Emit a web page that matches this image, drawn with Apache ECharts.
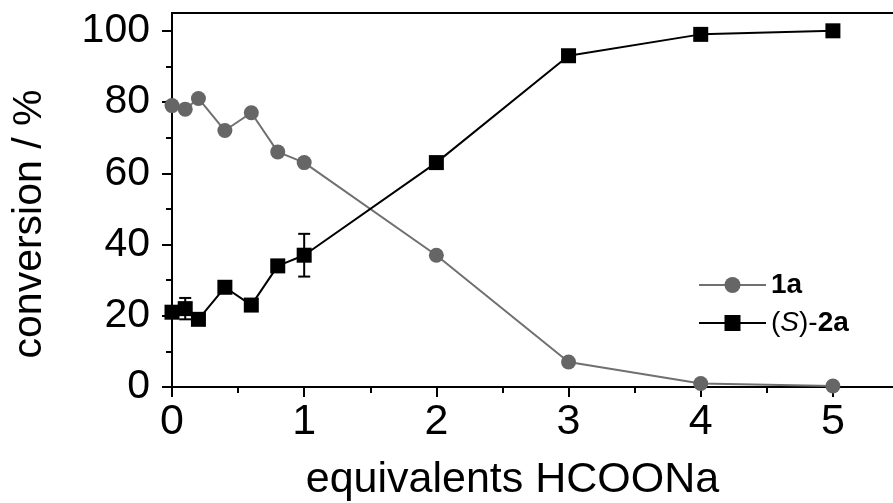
<!DOCTYPE html>
<html>
<head>
<meta charset="utf-8">
<script src="https://cdn.jsdelivr.net/npm/echarts@6/dist/echarts.min.js"></script>
<style>
  html, body { margin: 0; padding: 0; background: #fff; }
  #chart { width: 893px; height: 503px; }
</style>
</head>
<body>
<div id="chart"></div>
<script>
// equivalents of HCOONa
var eqX = [0, 0.1, 0.2, 0.4, 0.6, 0.8, 1, 2, 3, 4, 5];
// conversion / %
var conv1a = [79, 78, 81, 72, 77, 66, 63, 37, 7, 1, 0.3];
var conv2a = [21, 22, 19, 28, 23, 34, 37, 63, 93, 99, 100];
// error bars for (S)-2a: x, low, high
var errX = [0.1, 1];
var errLow = [19, 31];
var errHigh = [25, 43];

var xMajor = [0, 1, 2, 3, 4, 5];
var xMinor = [0.5, 1.5, 2.5, 3.5, 4.5];
var yMajor = [0, 20, 40, 60, 80, 100];
var yMinor = [10, 30, 50, 70, 90];

var FONT = "'Liberation Sans', Arial, sans-serif";

var configureChart = function() {
    let chart = echarts.init(document.getElementById('chart'));

    function pairs(xs, ys) {
        let data = [];
        for (let i = 0; i < xs.length; i++) {
            data.push([xs[i], ys[i]]);
        }
        return data;
    }

    function errData() {
        let data = [];
        for (let i = 0; i < errX.length; i++) {
            data.push([errX[i], errLow[i], errHigh[i]]);
        }
        return data;
    }

    function renderErr(params, api) {
        let x = api.value(0);
        let lo = api.coord([x, api.value(1)]);
        let hi = api.coord([x, api.value(2)]);
        let w = 6;
        let style = { stroke: '#000', lineWidth: 2 };
        return {
            type: 'group',
            children: [
                { type: 'line', shape: { x1: lo[0], y1: lo[1], x2: hi[0], y2: hi[1] }, style: style },
                { type: 'line', shape: { x1: lo[0] - w, y1: lo[1], x2: lo[0] + w, y2: lo[1] }, style: style },
                { type: 'line', shape: { x1: hi[0] - w, y1: hi[1], x2: hi[0] + w, y2: hi[1] }, style: style }
            ]
        };
    }

    let axisLine = { show: true, onZero: false, lineStyle: { color: '#000', width: 2 } };

    let options = {
        animation: false,
        grid: {
            left: 172, top: 13, right: -6, bottom: 116,
            show: true, borderColor: '#000', borderWidth: 2,
            outerBoundsMode: 'none'
        },
        legend: {
            data: ['1a', '(S)-2a'],
            orient: 'vertical',
            left: 693,
            top: 265,
            itemWidth: 67,
            itemHeight: 20,
            itemGap: 8,
            formatter: function(name) {
                if (name === '1a') return '{b|1a}';
                return '(' + '{i|S}' + ')-{b|2a}';
            },
            textStyle: {
                fontFamily: FONT, fontSize: 28, color: '#000', lineHeight: 30,
                rich: {
                    b: { fontFamily: FONT, fontSize: 28, fontWeight: 'bold', color: '#000' },
                    i: { fontFamily: FONT, fontSize: 28, fontStyle: 'italic', color: '#000' }
                }
            }
        },
        xAxis: [{
            type: 'value',
            min: 0,
            max: 5.5,
            interval: 1,
            position: 'bottom',
            name: 'equivalents HCOONa',
            nameLocation: 'middle',
            nameGap: 72,
            nameTextStyle: { fontFamily: FONT, fontSize: 43, color: '#000', padding: [0, 46, 0, 0] },
            axisLine: axisLine,
            axisTick: { show: true, inside: false, length: 10, customValues: xMajor, lineStyle: { color: '#000', width: 2 } },
            axisLabel: { customValues: xMajor, fontFamily: FONT, fontSize: 43, color: '#000', margin: 14 },
            splitLine: { show: false }
        }, {
            type: 'value',
            min: 0,
            max: 5.5,
            position: 'bottom',
            offset: 0,
            axisLine: { show: false },
            axisTick: { show: true, inside: false, length: 6, customValues: xMinor, lineStyle: { color: '#000', width: 2 } },
            axisLabel: { show: false },
            splitLine: { show: false }
        }],
        yAxis: [{
            type: 'value',
            min: 0,
            max: 105,
            interval: 20,
            position: 'left',
            name: 'conversion / %',
            nameLocation: 'middle',
            nameGap: 122,
            nameTextStyle: { fontFamily: FONT, fontSize: 41, color: '#000', padding: [0, 48, 0, 0] },
            axisLine: axisLine,
            axisTick: { show: true, inside: false, length: 10, customValues: yMajor, lineStyle: { color: '#000', width: 2 } },
            axisLabel: { customValues: yMajor, fontFamily: FONT, fontSize: 41, color: '#000', margin: 22 },
            splitLine: { show: false }
        }, {
            type: 'value',
            min: 0,
            max: 105,
            position: 'left',
            offset: 0,
            axisLine: { show: false },
            axisTick: { show: true, inside: false, length: 6, customValues: yMinor, lineStyle: { color: '#000', width: 2 } },
            axisLabel: { show: false },
            splitLine: { show: false }
        }],
        series: [{
            name: '1a',
            type: 'line',
            data: pairs(eqX, conv1a),
            symbol: 'circle',
            symbolSize: 15,
            color: '#666666',
            itemStyle: { color: '#666666' },
            lineStyle: { color: '#707070', width: 2 },
            z: 3
        }, {
            name: 'err',
            type: 'custom',
            data: errData(),
            encode: { x: 0, y: [1, 2] },
            renderItem: renderErr,
            z: 4
        }, {
            name: '(S)-2a',
            type: 'line',
            data: pairs(eqX, conv2a),
            symbol: 'rect',
            symbolSize: 15,
            color: '#000',
            itemStyle: { color: '#000' },
            lineStyle: { color: '#000', width: 2 },
            z: 5
        }]
    };

    chart.setOption(options);
    return chart;
};

configureChart();
</script>
</body>
</html>
